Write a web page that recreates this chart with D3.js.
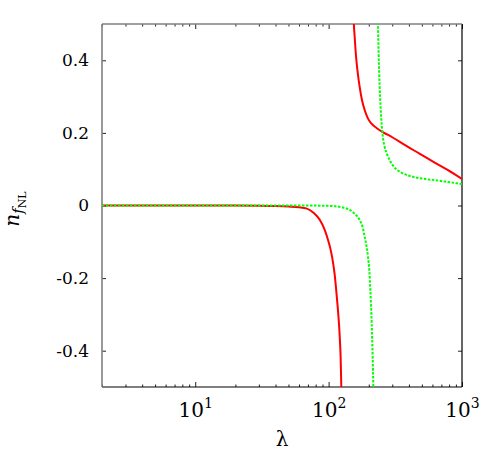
<!DOCTYPE html>
<html>
<head>
<meta charset="utf-8">
<script src="https://cdn.jsdelivr.net/npm/d3@7"></script>
<style>
  body { margin: 0; background: #fff; }
  text, tspan { font-family: "DejaVu Serif", serif !important; }
</style>
</head>
<body>
<div id="chart"></div>
<script>
// lambda / n_fNL, one array pair per branch
const lambdaRedLow = [2, 5, 10, 20, 30, 40, 50, 60, 68, 77, 86, 93, 99, 104, 108, 111, 114, 117, 119.5, 121.5, 123, 124.5, 125.5];
const nRedLow = [0, 0, 0, 0, -0.0005, -0.0015, -0.003, -0.005, -0.008, -0.02, -0.04, -0.065, -0.095, -0.125, -0.158, -0.19, -0.233, -0.28, -0.324, -0.37, -0.416, -0.5, -0.56];

const lambdaRedHigh = [153, 154.2, 156.8, 161.4, 166, 170.9, 178, 186.4, 197, 209, 230, 252.8, 300, 382.9, 480, 605.9, 780, 1000];
const nRedHigh = [0.56, 0.511, 0.465, 0.401, 0.36, 0.327, 0.29, 0.263, 0.24, 0.226, 0.213, 0.203, 0.188, 0.164, 0.143, 0.121, 0.098, 0.073];

const lambdaGreenLow = [2, 10, 30, 60, 90, 110, 130, 144, 158, 171, 180, 186.4, 192, 197.3, 202, 205.6, 210.4, 213.9, 216.4, 218];
const nGreenLow = [0, 0, 0, 0, -0.0005, -0.002, -0.006, -0.012, -0.024, -0.04, -0.06, -0.086, -0.11, -0.141, -0.18, -0.233, -0.325, -0.417, -0.499, -0.56];

const lambdaGreenHigh = [233.5, 234.4, 237.2, 241.5, 248.5, 255, 263, 275, 286.9, 310, 341.2, 380, 429, 530, 680.5, 850, 1000];
const nGreenHigh = [0.56, 0.511, 0.419, 0.327, 0.236, 0.19, 0.162, 0.14, 0.125, 0.106, 0.093, 0.085, 0.079, 0.073, 0.068, 0.063, 0.059];

const xMajor = [10, 100, 1000];
const xMinor = [2, 3, 4, 5, 6, 7, 8, 9, 20, 30, 40, 50, 60, 70, 80, 90, 200, 300, 400, 500, 600, 700, 800, 900];
const yTicks = [-0.4, -0.2, 0, 0.2, 0.4];

const width = 500, height = 454;
const margin = { top: 24, right: 38, bottom: 67, left: 102 };
const w = width - margin.left - margin.right,
  h = height - margin.top - margin.bottom;

const svg = d3.select("#chart").append("svg")
  .attr("width", width)
  .attr("height", height);

const g = svg.append("g")
  .attr("transform", "translate(" + margin.left + "," + margin.top + ")");

const x = d3.scaleLog().domain([2, 1000]).range([0, w]);
const y = d3.scaleLinear().domain([-0.5, 0.5]).range([h, 0]);

g.append("clipPath").attr("id", "clip")
  .append("rect").attr("width", w).attr("height", h);

// bottom axis: minor ticks then major ticks with labels
g.append("g").attr("transform", "translate(0," + h + ")")
  .call(d3.axisBottom(x).tickValues(xMinor).tickSizeInner(-2.5).tickSizeOuter(0).tickFormat(""))
  .call(a => a.select(".domain").remove());
const bottom = g.append("g").attr("transform", "translate(0," + h + ")")
  .call(d3.axisBottom(x).tickValues(xMajor).tickSizeInner(-5).tickSizeOuter(0).tickFormat(""));
bottom.select(".domain").remove();
bottom.selectAll(".tick").append("text")
  .attr("y", 29.5)
  .attr("fill", "#000")
  .attr("text-anchor", "middle")
  .style("font-size", "20px")
  .each(function (d) {
    const t = d3.select(this);
    t.append("tspan").text("10");
    t.append("tspan").attr("dy", -9).style("font-size", "14px").text(Math.round(Math.log10(d)));
  });

// top axis: ticks only
g.append("g")
  .call(d3.axisTop(x).tickValues(xMinor).tickSizeInner(-2.5).tickSizeOuter(0).tickFormat(""))
  .call(a => a.select(".domain").remove());
g.append("g")
  .call(d3.axisTop(x).tickValues(xMajor).tickSizeInner(-5).tickSizeOuter(0).tickFormat(""))
  .call(a => a.select(".domain").remove());

// left axis
const left = g.append("g")
  .call(d3.axisLeft(y).tickValues(yTicks).tickSizeInner(-4).tickSizeOuter(0).tickPadding(13)
    .tickFormat(d => d === 0 ? "0" : String(d)));
left.select(".domain").remove();
left.selectAll("text")
  .style("font-size", "17px")
  .attr("fill", "#000");

// right axis
g.append("g").attr("transform", "translate(" + w + ",0)")
  .call(d3.axisRight(y).tickValues(yTicks).tickSizeInner(-4).tickSizeOuter(0).tickFormat(""))
  .call(a => a.select(".domain").remove());

g.selectAll(".tick line").attr("stroke", "#222");

// frame: gnuplot style, grey left/top, black bottom/right
g.append("line").attr("x1", 0).attr("x2", w).attr("y1", h).attr("y2", h).attr("stroke", "#000").attr("stroke-width", 1.2);
g.append("line").attr("x1", w).attr("x2", w).attr("y1", 0).attr("y2", h).attr("stroke", "#000").attr("stroke-width", 1.2);
g.append("line").attr("x1", 0).attr("x2", 0).attr("y1", 0).attr("y2", h).attr("stroke", "#808080").attr("stroke-width", 1.6);
g.append("line").attr("x1", 0).attr("x2", w).attr("y1", 0).attr("y2", 0).attr("stroke", "#808080").attr("stroke-width", 1.6);

// curves
const line = d3.line()
  .x(d => x(d[0]))
  .y(d => y(d[1]))
  .curve(d3.curveMonotoneX);

const series = [
  { xs: lambdaRedLow, ys: nRedLow, color: "#ff0000", dash: null },
  { xs: lambdaRedHigh, ys: nRedHigh, color: "#ff0000", dash: null },
  { xs: lambdaGreenLow, ys: nGreenLow, color: "#00ff00", dash: "2.5,1.5" },
  { xs: lambdaGreenHigh, ys: nGreenHigh, color: "#00ff00", dash: "2.5,1.5" }
];

g.append("g").attr("clip-path", "url(#clip)")
  .selectAll("path")
  .data(series)
  .enter()
  .append("path")
  .attr("d", s => line(s.xs.map((v, i) => [v, s.ys[i]])))
  .attr("fill", "none")
  .attr("stroke", s => s.color)
  .attr("stroke-width", 2)
  .attr("stroke-dasharray", s => s.dash);

// axis titles
svg.append("text")
  .attr("x", margin.left + w / 2)
  .attr("y", 446)
  .attr("text-anchor", "middle")
  .style("font-size", "20px")
  .text("λ");

const ylab = svg.append("text")
  .attr("transform", "translate(19," + (margin.top + 185) + ") rotate(-90)")
  .attr("text-anchor", "middle")
  .style("font-size", "20px");
ylab.append("tspan").style("font-style", "italic").text("n");
ylab.append("tspan").attr("dy", 4).style("font-size", "15px").style("font-style", "italic").text("f");
ylab.append("tspan").attr("dy", 3).style("font-size", "11px").text("NL");
</script>
</body>
</html>
